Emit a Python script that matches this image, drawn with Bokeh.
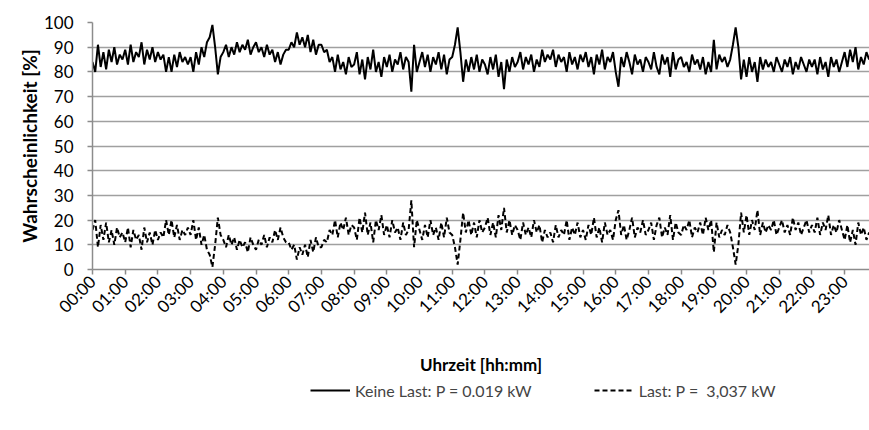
import math
from bokeh.plotting import figure
from bokeh.layouts import column
from bokeh.models import Range1d, FixedTicker, Legend, LegendItem, ColumnDataSource
from bokeh.embed import file_html
from bokeh.resources import INLINE

# Time in minutes since midnight (5-minute samples)
MINUTES = list(range(0, 1430, 5))

HOUR_LABELS = ["00:00", "01:00", "02:00", "03:00", "04:00", "05:00", "06:00", "07:00",
               "08:00", "09:00", "10:00", "11:00", "12:00", "13:00", "14:00", "15:00",
               "16:00", "17:00", "18:00", "19:00", "20:00", "21:00", "22:00", "23:00"]

# Keine Last (upper, solid)
KEINE_LAST = [
    84, 80, 91, 82, 88, 81, 89, 84, 90, 83, 87, 85,
    89, 83, 91, 84, 88, 86, 92, 83, 89, 85, 90, 84,
    88, 85, 87, 80, 86, 80, 87, 82, 88, 84, 86, 83,
    86, 80, 88, 83, 90, 86, 92, 94, 99, 90, 79, 86,
    88, 91, 86, 90, 87, 92, 88, 91, 89, 93, 87, 90,
    92, 88, 90, 86, 91, 87, 89, 84, 88, 83, 87, 89,
    89, 92, 90, 96, 91, 94, 90, 95, 88, 93, 87, 91,
    91, 88, 89, 84, 86, 80, 87, 81, 84, 79, 86, 82,
    83, 88, 79, 85, 77, 86, 81, 89, 80, 84, 78, 86,
    82, 87, 80, 85, 83, 88, 81, 86, 84, 72, 91, 80,
    84, 88, 82, 87, 80, 86, 83, 88, 81, 87, 79, 85,
    86, 91, 98, 88, 76, 85, 80, 86, 81, 87, 80, 85,
    83, 79, 86, 81, 87, 78, 84, 73, 85, 80, 86, 82,
    84, 88, 81, 86, 83, 87, 80, 85, 82, 89, 84, 87,
    85, 89, 82, 87, 84, 86, 80, 88, 83, 86, 81, 87,
    84, 88, 82, 86, 79, 87, 83, 89, 81, 86, 84, 88,
    80, 74, 86, 82, 88, 84, 79, 87, 83, 85, 80, 86,
    84, 81, 88, 82, 79, 87, 83, 86, 78, 88, 81, 85,
    86, 82, 84, 80, 87, 83, 85, 81, 86, 79, 84, 80,
    93, 81, 87, 84, 86, 82, 85, 91, 98, 90, 77, 85,
    78, 86, 80, 84, 76, 86, 81, 85, 82, 84, 80, 86,
    83, 80, 85, 82, 86, 79, 84, 81, 86, 83, 80, 85,
    82, 85, 79, 86, 81, 84, 78, 86, 82, 85, 80, 84,
    88, 82, 89, 84, 90, 81, 86, 83, 88, 85,
]

# Last (lower, dashed)
LAST = [
    16, 20, 9, 18, 12, 19, 11, 16, 10, 17, 13, 15,
    11, 17, 9, 16, 12, 14, 8, 17, 11, 15, 10, 16,
    12, 15, 13, 20, 14, 20, 13, 18, 12, 16, 14, 17,
    14, 20, 12, 17, 10, 14, 8, 6, 1, 10, 21, 14,
    12, 9, 14, 10, 13, 8, 12, 9, 11, 7, 13, 10,
    8, 12, 10, 14, 9, 13, 11, 16, 12, 17, 13, 11,
    11, 8, 10, 4, 9, 6, 10, 5, 12, 7, 13, 9,
    9, 12, 11, 16, 14, 20, 13, 19, 16, 21, 14, 18,
    17, 12, 21, 15, 23, 14, 19, 11, 20, 16, 22, 14,
    18, 13, 20, 15, 17, 12, 19, 14, 16, 28, 9, 20,
    16, 12, 18, 13, 20, 14, 17, 12, 19, 13, 21, 15,
    14, 9, 2, 12, 23, 15, 20, 14, 19, 13, 20, 15,
    17, 21, 14, 19, 13, 22, 16, 25, 15, 20, 14, 18,
    16, 12, 19, 14, 17, 13, 20, 15, 18, 11, 16, 13,
    15, 11, 18, 13, 16, 14, 20, 12, 17, 14, 19, 13,
    16, 12, 18, 14, 21, 13, 17, 11, 19, 14, 16, 12,
    20, 24, 14, 18, 12, 16, 21, 13, 17, 15, 20, 14,
    16, 19, 12, 18, 21, 13, 17, 14, 22, 12, 19, 15,
    14, 18, 16, 20, 13, 17, 15, 19, 14, 21, 16, 20,
    7, 19, 13, 16, 14, 18, 15, 9, 2, 10, 23, 15,
    22, 14, 20, 16, 24, 14, 19, 15, 18, 16, 20, 14,
    17, 20, 15, 18, 14, 21, 16, 19, 14, 17, 20, 15,
    18, 15, 21, 14, 19, 16, 22, 14, 18, 15, 20, 16,
    12, 18, 11, 16, 10, 19, 14, 17, 12, 15,
]

LABEL_KEINE = "Keine Last: P = 0.019 kW"
LABEL_LAST = "Last: P =  3,037 kW"

FONT = "Lato"
GRID = "#a0a0a0"
AXIS = "#8c8c8c"

hours = [m / 60.0 for m in MINUTES]
src = ColumnDataSource(dict(x=hours, keine=KEINE_LAST, last=LAST))

p = figure(width=869, height=378, output_backend="svg", toolbar_location=None,
           x_range=Range1d(0, 23.76), y_range=Range1d(0, 100),
           min_border_left=92, min_border_right=0, min_border_top=22, min_border_bottom=20)

p.line("x", "keine", source=src, line_color="black", line_width=2)
p.line("x", "last", source=src, line_color="black", line_width=2, line_dash="5 3")

p.outline_line_color = None
p.xgrid.visible = False
p.ygrid.grid_line_color = GRID
p.ygrid.grid_line_width = 1.5

p.yaxis.ticker = FixedTicker(ticks=list(range(0, 101, 10)))
p.xaxis.ticker = FixedTicker(ticks=list(range(len(HOUR_LABELS))))
p.xaxis.major_label_overrides = {i: lab for i, lab in enumerate(HOUR_LABELS)}
p.xaxis.major_label_orientation = math.pi / 4

for ax in (p.xaxis, p.yaxis):
    ax.axis_line_color = AXIS
    ax.axis_line_width = 1.5
    ax.major_tick_line_color = AXIS
    ax.major_tick_line_width = 1.5
    ax.major_tick_out = 5
    ax.major_tick_in = 0
    ax.minor_tick_line_color = None
    ax.major_label_text_font = FONT
    ax.major_label_text_font_size = "17px"
    ax.major_label_text_color = "black"
    ax.axis_label_text_font = FONT
    ax.axis_label_text_font_style = "bold"
    ax.axis_label_text_font_size = "17px"
    ax.axis_label_text_color = "black"

p.yaxis.major_label_standoff = 14
p.yaxis.axis_label = "Wahrscheinlichkeit [%]"
p.yaxis.axis_label_text_font_size = "19px"
p.yaxis.axis_label_standoff = 0
p.xaxis.major_label_standoff = 4
p.xaxis.axis_label = "Uhrzeit [hh:mm]"
p.xaxis.axis_label_standoff = 27

# Legend strip below the chart (same series, drawn outside its visible range)
leg = figure(width=869, height=40, output_backend="svg", toolbar_location=None,
             x_range=Range1d(0, 23.76), y_range=Range1d(1000, 1001),
             min_border_left=0, min_border_right=0, min_border_top=0, min_border_bottom=0)
lr1 = leg.line("x", "keine", source=src, line_color="black", line_width=2)
lr2 = leg.line("x", "last", source=src, line_color="black", line_width=2, line_dash="5 3")
leg.axis.visible = False
leg.grid.visible = False
leg.outline_line_color = None

legend = Legend(items=[LegendItem(label=LABEL_KEINE, renderers=[lr1]),
                       LegendItem(label=LABEL_LAST, renderers=[lr2])],
                orientation="horizontal", spacing=62, glyph_width=40, glyph_height=20,
                label_text_font=FONT, label_text_font_size="16px",
                border_line_color=None, background_fill_alpha=0,
                padding=0, margin=0, location=(218, 18))
leg.add_layout(legend, "center")

layout = column(p, leg, spacing=0)
open("out.html", "w").write(file_html(layout, INLINE))
